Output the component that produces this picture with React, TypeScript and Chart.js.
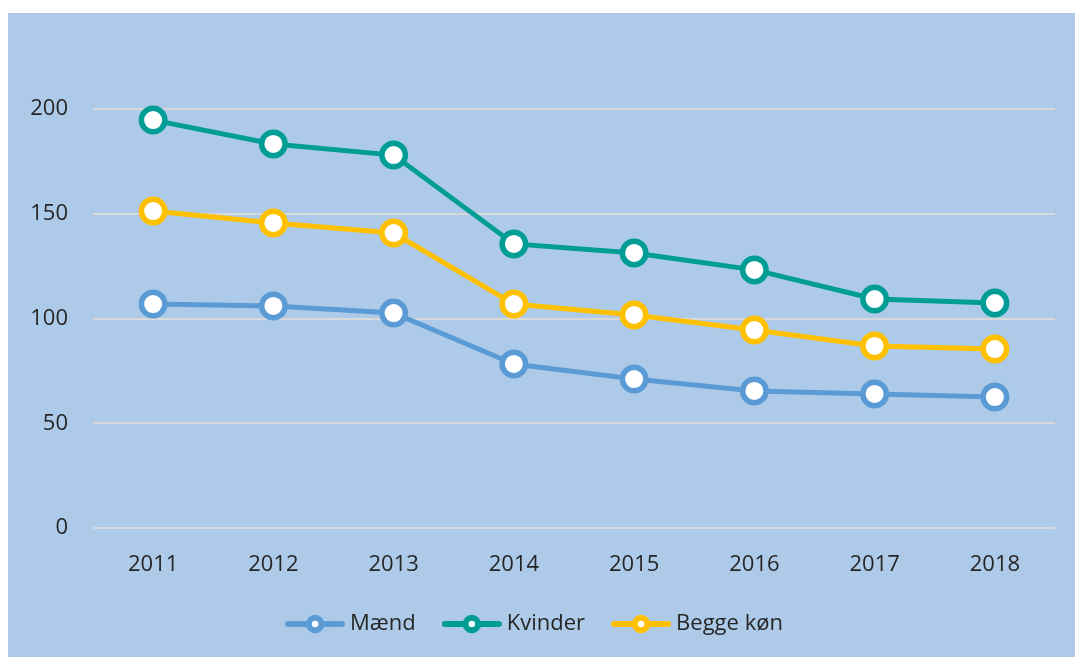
import { useEffect, useRef } from "react";
import { Chart, registerables } from "chart.js";

Chart.register(...registerables);

const years = ["2011", "2012", "2013", "2014", "2015", "2016", "2017", "2018"];
const maend = [106.9, 106, 102.6, 78.3, 71.1, 65.4, 64, 62.5];
const kvinder = [194.7, 183.3, 178, 135.6, 131.3, 123.2, 109.3, 107.4];
const begge = [151.3, 145.6, 140.8, 106.9, 101.7, 94.5, 86.9, 85.4];
const seriesNames = ["Mænd", "Kvinder", "Begge køn"];
const seriesColors = ["#5b9bd5", "#009d96", "#ffc000"];
const Y_LAST_TICK = 200;
const PX_PER_UNIT = 419 / 200;

const FONT = "'Open Sans', 'DejaVu Sans', sans-serif";
const TEXT = "#262626";

function legendMarker(color: string): HTMLCanvasElement {
  const c = document.createElement("canvas");
  c.width = 60;
  c.height = 20;
  const ctx = c.getContext("2d")!;
  ctx.strokeStyle = color;
  ctx.lineCap = "round";
  ctx.lineWidth = 6;
  ctx.beginPath();
  ctx.moveTo(3, 10);
  ctx.lineTo(57, 10);
  ctx.stroke();
  ctx.beginPath();
  ctx.arc(30, 10, 6.25, 0, Math.PI * 2);
  ctx.fillStyle = "#ffffff";
  ctx.fill();
  ctx.lineWidth = 6;
  ctx.stroke();
  return c;
}

const fixScale = {
  id: "fixScale",
  afterLayout(chart: any) {
    const s = chart.scales.y;
    const max = (s.bottom - s.top) / PX_PER_UNIT;
    s.min = 0;
    s.start = 0;
    s.max = max;
    s.end = max;
    s.configure();
  },
};

export default function App() {
  const ref = useRef<HTMLCanvasElement>(null);

  useEffect(() => {
    document.body.style.margin = "0";
    const markers = seriesColors.map(legendMarker);
    const values = [maend, kvinder, begge];
    const chart = new Chart(ref.current!, {
      type: "line",
      plugins: [fixScale],
      data: {
        labels: years,
        datasets: values.map((v, i) => ({
          label: seriesNames[i],
          data: v,
          borderColor: seriesColors[i],
          backgroundColor: seriesColors[i],
          borderWidth: 5,
          tension: 0,
          pointRadius: 11.75,
          pointBorderWidth: 5.5,
          pointBackgroundColor: "#ffffff",
          pointBorderColor: seriesColors[i],
          clip: false as any,
        })),
      },
      options: {
        responsive: false,
        animation: false,
        layout: { autoPadding: false, padding: { top: 14, right: 20, bottom: 12, left: 11 } },
        plugins: {
          tooltip: { enabled: false },
          legend: {
            position: "bottom",
            labels: {
              usePointStyle: true,
              pointStyleWidth: 48,
              padding: 32,
              color: TEXT,
              font: { family: FONT, size: 22 },
              generateLabels: (ch: any) =>
                ch.data.datasets.map((ds: any, i: number) => ({
                  text: ds.label,
                  pointStyle: markers[i],
                  fillStyle: "transparent",
                  strokeStyle: "transparent",
                  lineWidth: 0,
                  hidden: false,
                  datasetIndex: i,
                  fontColor: TEXT,
                })),
            },
          },
        },
        scales: {
          x: {
            offset: true,
            grid: { display: false, drawTicks: false },
            border: { display: false },
            ticks: { padding: 24, color: TEXT, font: { family: FONT, size: 22 } },
            afterFit: (s: any) => {
              s.height = 53;
            },
          },
          y: {
            min: 0,
            max: 250,
            afterBuildTicks: (s: any) => {
              s.ticks = s.ticks.filter((t: any) => t.value <= Y_LAST_TICK);
            },
            ticks: { stepSize: 50, padding: 25, color: TEXT, font: { family: FONT, size: 22 } },
            grid: { color: "#d9d9d9", lineWidth: 2, drawTicks: false },
            border: { display: false },
            afterFit: (s: any) => {
              s.width = 74;
            },
          },
        },
      },
    });
    return () => chart.destroy();
  }, []);

  return (
    <div
      style={{
        position: "absolute",
        left: 8,
        top: 13,
        width: 1067,
        height: 644,
        background: "#adcbe9",
      }}
    >
      <canvas ref={ref} width={1067} height={644} style={{ display: "block" }} />
    </div>
  );
}
